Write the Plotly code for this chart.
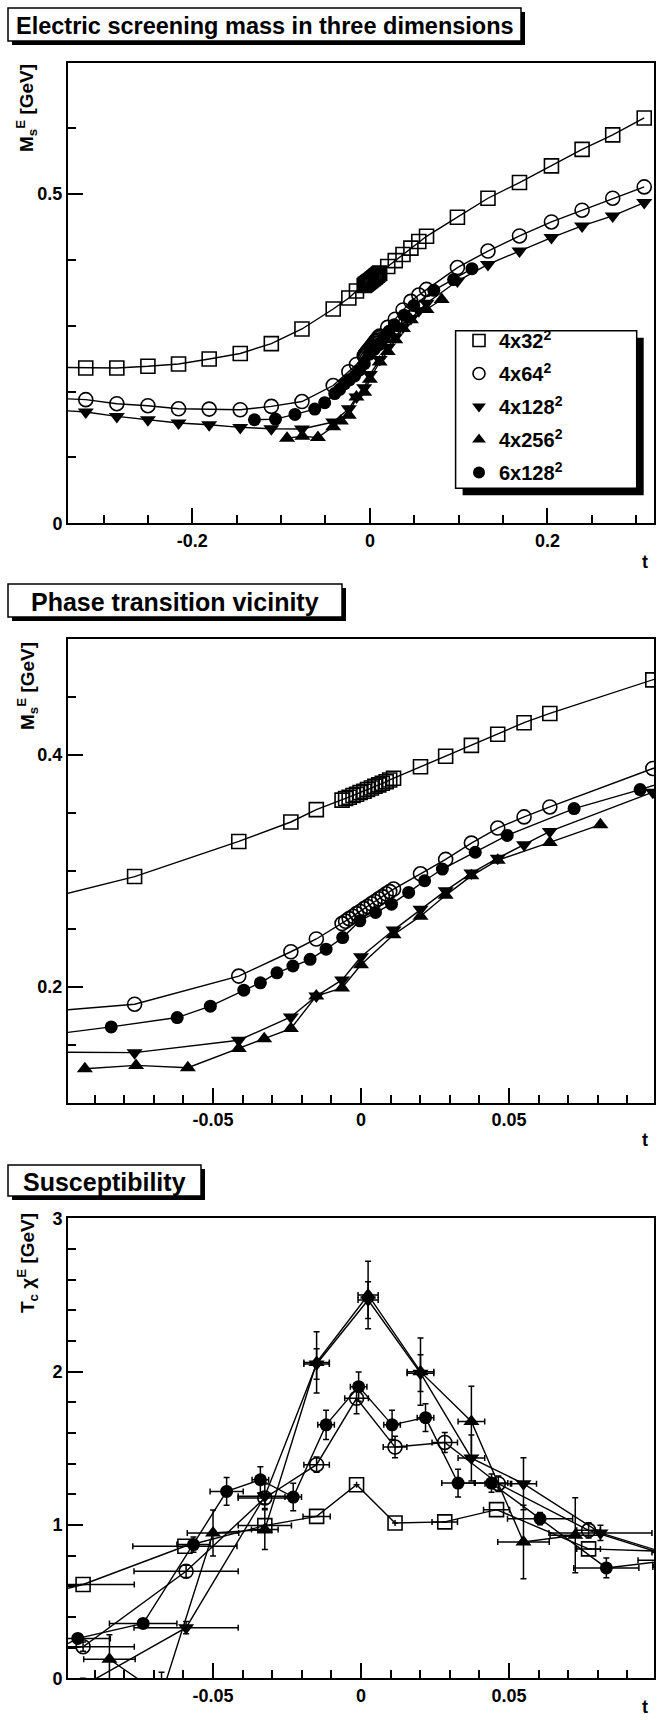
import plotly.graph_objects as go

W, H = 662, 1720
FONT = "Liberation Sans, Arial, Helvetica, sans-serif"

# ---------------- data ----------------
labels = ["4x32<sup>2</sup>", "4x64<sup>2</sup>", "4x128<sup>2</sup>", "4x256<sup>2</sup>", "6x128<sup>2</sup>"]
symbols = ["square-open", "circle-open", "triangle-down", "triangle-up", "circle"]

# electric screening mass M_s^E [GeV] versus reduced temperature t (panels 1 and 2)
t_4x32 = [-0.355, -0.320, -0.285, -0.250, -0.2155, -0.181, -0.146, -0.111, -0.0765, -0.0413, -0.0237, -0.0151,
          -0.0064, -0.0052, -0.0040, -0.0027, -0.0015, -0.0003, 0.0010, 0.0022, 0.0035, 0.0047, 0.0060, 0.0072,
          0.0085, 0.0097, 0.0110,
          0.0201, 0.0286, 0.0373, 0.0462, 0.0551, 0.0638, 0.0986, 0.133, 0.1685, 0.2045, 0.239, 0.2735, 0.309]
m_4x32 = [0.237, 0.236, 0.236, 0.2385, 0.242, 0.2496, 0.258, 0.273, 0.2952, 0.3255, 0.3423, 0.353,
          0.3612, 0.3626, 0.3637, 0.3652, 0.3663, 0.3678, 0.3689, 0.3704, 0.3716, 0.3731, 0.3743, 0.3758,
          0.3770, 0.3786, 0.3800,
          0.390, 0.399, 0.4084, 0.418, 0.428, 0.436, 0.465, 0.4938, 0.5177, 0.543, 0.568, 0.590, 0.6157]

t_4x64 = [-0.355, -0.320, -0.285, -0.250, -0.2155, -0.181, -0.146, -0.111, -0.0765, -0.0413, -0.0237, -0.0151,
          -0.0064, -0.0052, -0.0040, -0.0027, -0.0015, -0.0003, 0.0010, 0.0022, 0.0035, 0.0047, 0.0060, 0.0072,
          0.0085, 0.0097, 0.0110,
          0.0201, 0.0286, 0.0373, 0.0462, 0.0551, 0.0638, 0.0986, 0.133, 0.1685, 0.2045, 0.239, 0.2735, 0.309]
m_4x64 = [0.190, 0.1878, 0.1817, 0.1786, 0.174, 0.1735, 0.1725, 0.1776, 0.185, 0.2093, 0.2303, 0.2413,
          0.2546, 0.2566, 0.2589, 0.2609, 0.2632, 0.2651, 0.2675, 0.2694, 0.2717, 0.2737, 0.2760, 0.2779,
          0.2803, 0.2822, 0.2844,
          0.2976, 0.310, 0.3241, 0.3371, 0.3467, 0.3553, 0.3885, 0.4136, 0.4365, 0.4578, 0.4756, 0.4938, 0.511]

t_4x128 = [-0.355, -0.320, -0.285, -0.250, -0.2155, -0.181, -0.146, -0.111, -0.0765, -0.0413, -0.0237, -0.0151,
           -0.0064, 0.0, 0.011, 0.0201, 0.0286, 0.0373, 0.0462, 0.0551, 0.0638, 0.0986, 0.133, 0.1685, 0.2045,
           0.239, 0.2735, 0.309]
m_4x128 = [0.172, 0.169, 0.1624, 0.1573, 0.1523, 0.1497, 0.1457, 0.1437, 0.1432, 0.1539, 0.174, 0.192,
           0.206, 0.226, 0.249, 0.267, 0.283, 0.2982, 0.3111, 0.3227, 0.3342, 0.368, 0.3933, 0.4136, 0.434,
           0.4517, 0.467, 0.4873]

t_4x256 = [-0.0933, -0.076, -0.0585, -0.0413, -0.0327, -0.0237, -0.0151, -0.0064, 0.0, 0.011, 0.0201, 0.0286,
           0.0373, 0.0462, 0.0638, 0.0809]
m_4x256 = [0.1293, 0.1322, 0.1302, 0.1467, 0.1553, 0.164, 0.192, 0.199, 0.219, 0.245, 0.261, 0.279,
           0.2958, 0.3093, 0.3247, 0.340]

t_6x128 = [-0.130, -0.1063, -0.0844, -0.0621, -0.0509, -0.0396, -0.034, -0.0284, -0.023, -0.0172, -0.0118,
           -0.0062, -0.0004, 0.0049, 0.0103, 0.0161, 0.0215, 0.0275, 0.0386, 0.0494, 0.072, 0.0943, 0.115]
m_6x128 = [0.1573, 0.1583, 0.1654, 0.1735, 0.1833, 0.1971, 0.2035, 0.2121, 0.218, 0.2238, 0.2325,
           0.2425, 0.257, 0.2642, 0.2714, 0.2815, 0.2916, 0.3017, 0.3162, 0.3307, 0.3539, 0.3703, 0.3868]

# susceptibility T_c chi^E [GeV] (panel 3): t, value, t-error, value-error
chi_t_4x32 = [-0.1285, -0.0939, -0.0595, -0.0325, -0.015, -0.0015, 0.0115, 0.0283, 0.0458, 0.0769, 0.1158]
chi_4x32 = [0.44, 0.612, 0.861, 0.996, 1.056, 1.262, 1.013, 1.02, 1.10, 0.844, 0.82]
chi_dt_4x32 = [0.0175, 0.0173, 0.0176, 0.009, 0.0046, 0.0, 0.0, 0.0043, 0.0044, 0.0040, 0.0175]
chi_err_4x32 = [0.0, 0.0, 0.0, 0.0, 0.0, 0.0, 0.0, 0.0, 0.0, 0.0, 0.0]

chi_t_4x64 = [-0.1285, -0.0939, -0.0591, -0.0325, -0.015, -0.0015, 0.0115, 0.0283, 0.0464, 0.0769, 0.1161]
chi_4x64 = [0.15, 0.206, 0.698, 1.176, 1.393, 1.826, 1.508, 1.538, 1.269, 0.965, 0.726]
chi_dt_4x64 = [0.0175, 0.0173, 0.0176, 0.009, 0.0043, 0.0040, 0.0040, 0.0043, 0.0045, 0.0040, 0.0175]
chi_err_4x64 = [0.03, 0.03, 0.04, 0.04, 0.05, 0.10, 0.07, 0.065, 0.05, 0.05, 0.05]

chi_t_4x128 = [-0.094, -0.0591, -0.0325, -0.015, 0.0024, 0.0201, 0.0373, 0.0549, 0.0809, 0.116]
chi_4x128 = [-0.05, 0.33, 1.187, 2.05, 2.467, 1.99, 1.436, 1.269, 0.948, 0.74]
chi_dt_4x128 = [0.0174, 0.0176, 0.009, 0.0043, 0.0034, 0.0045, 0.0045, 0.0044, 0.0174, 0.0174]
chi_err_4x128 = [0.05, 0.04, 0.08, 0.10, 0.12, 0.12, 0.15, 0.17, 0.05, 0.05]

chi_t_4x256 = [-0.085, -0.0674, -0.050, -0.0325, -0.015, 0.0024, 0.0201, 0.0373, 0.0549, 0.0724]
chi_4x256 = [0.124, -0.11, 0.948, 0.97, 2.06, 2.50, 2.00, 1.675, 0.889, 0.933]
chi_dt_4x256 = [0.0087, 0.0087, 0.0087, 0.0045, 0.0043, 0.0034, 0.0045, 0.0045, 0.0087, 0.0085]
chi_err_4x256 = [0.16, 0.15, 0.15, 0.13, 0.20, 0.22, 0.22, 0.23, 0.24, 0.244]

chi_t_6x128 = [-0.118, -0.0957, -0.0736, -0.0566, -0.0454, -0.034, -0.0229, -0.0118, -0.0008, 0.0105,
               0.0218, 0.0328, 0.0441, 0.0605, 0.0829, 0.1046]
chi_6x128 = [0.04, 0.26, 0.358, 0.872, 1.219, 1.295, 1.182, 1.653, 1.902, 1.653, 1.70, 1.273, 1.273, 1.041,
             0.72, 0.77]
chi_dt_6x128 = [0.011, 0.011, 0.0114, 0.0056, 0.0056, 0.0028, 0.0028, 0.0028, 0.0028, 0.0028, 0.0028,
                0.0055, 0.0055, 0.011, 0.011, 0.011]
chi_err_6x128 = [0.03, 0.03, 0.03, 0.05, 0.09, 0.085, 0.09, 0.095, 0.095, 0.095, 0.09, 0.09, 0.06, 0.04,
                 0.065, 0.05]

# tick labels
p1_xtick_vals = [-0.2, 0, 0.2]
p1_xtick_text = ["-0.2", "0", "0.2"]
p1_ytick_vals = [0, 0.5]
p1_ytick_text = ["0", "0.5"]
p2_xtick_vals = [-0.05, 0, 0.05]
p2_xtick_text = ["-0.05", "0", "0.05"]
p2_ytick_vals = [0.2, 0.4]
p2_ytick_text = ["0.2", "0.4"]
p3_ytick_vals = [0, 1, 2, 3]
p3_ytick_text = ["0", "1", "2", "3"]

titles = ["Electric screening mass in three dimensions", "Phase transition vicinity", "Susceptibility"]

# ---------------- figure ----------------
def px(x):
    return x / W


def py(y):
    return 1 - y / H


M_series = [(t_4x32, m_4x32), (t_4x64, m_4x64), (t_4x128, m_4x128), (t_4x256, m_4x256), (t_6x128, m_6x128)]
chi_series = [
    (chi_t_4x32, chi_4x32, chi_dt_4x32, chi_err_4x32),
    (chi_t_4x64, chi_4x64, chi_dt_4x64, chi_err_4x64),
    (chi_t_4x128, chi_4x128, chi_dt_4x128, chi_err_4x128),
    (chi_t_4x256, chi_4x256, chi_dt_4x256, chi_err_4x256),
    (chi_t_6x128, chi_6x128, chi_dt_6x128, chi_err_6x128),
]
msize = [14, 14, 14, 14, 13]


def marker(i, size=None):
    s = size if size is not None else msize[i]
    open_ = symbols[i].endswith("open")
    return dict(symbol=symbols[i], size=s, color="black",
                line=dict(color="black", width=1.6 if open_ else 0))


fig = go.Figure()

for ax in ["", "2"]:
    for i, (tt, mm) in enumerate(M_series):
        fig.add_trace(go.Scatter(x=tt, y=mm, mode="lines+markers", xaxis="x" + ax, yaxis="y" + ax,
                                 marker=marker(i), line=dict(color="black", width=1.4),
                                 showlegend=False, hoverinfo="skip"))

for i, (tt, cc, dt, dc) in enumerate(chi_series):
    fig.add_trace(go.Scatter(x=tt, y=cc, mode="lines+markers", xaxis="x3", yaxis="y3",
                             marker=marker(i), line=dict(color="black", width=1.4),
                             error_x=dict(type="data", array=dt, visible=True, color="black",
                                          thickness=1.5, width=3),
                             error_y=dict(type="data", array=dc, visible=True, color="black",
                                          thickness=1.5, width=3),
                             showlegend=False, hoverinfo="skip"))

# legend-only entries
for i in range(5):
    fig.add_trace(go.Scatter(x=[None], y=[None], mode="markers", xaxis="x", yaxis="y",
                             marker=marker(i, 12), name=labels[i], showlegend=True,
                             legendgroup="g%d" % i))

tickfont = dict(family=FONT, size=18, color="black", weight="bold")


def axis_cfg(dom, rng, vals, text, minor_dt, anchor):
    return dict(domain=dom, range=rng, anchor=anchor, tickmode="array", tickvals=vals, ticktext=text,
                ticks="inside", ticklen=15, tickwidth=1.5, tickcolor="black", automargin=False,
                minor=dict(tickmode="linear", tick0=0, dtick=minor_dt, ticks="inside", ticklen=8,
                           tickwidth=1.5, tickcolor="black", showgrid=False),
                showline=True, linewidth=2, linecolor="black", mirror=True,
                showgrid=False, zeroline=False, tickfont=tickfont)


xdom = [px(68), px(654)]
fig.update_layout(
    template="none",
    width=W, height=H, margin=dict(l=0, r=0, t=0, b=0, pad=0, autoexpand=False),
    paper_bgcolor="white", plot_bgcolor="white",
    xaxis=axis_cfg(xdom, [-0.34, 0.32], p1_xtick_vals, p1_xtick_text, 0.05, "y"),
    yaxis=axis_cfg([py(523.3), py(62.5)], [0, 0.7], p1_ytick_vals, p1_ytick_text, 0.1, "x"),
    xaxis2=axis_cfg(xdom, [-0.099, 0.099], p2_xtick_vals, p2_xtick_text, 0.01, "y2"),
    yaxis2=axis_cfg([py(1102.7), py(639.3)], [0.1, 0.5], p2_ytick_vals, p2_ytick_text, 0.05, "x2"),
    xaxis3=axis_cfg(xdom, [-0.099, 0.099], p2_xtick_vals, p2_xtick_text, 0.01, "y3"),
    yaxis3=axis_cfg([py(1678.3), py(1218.3)], [0, 3], p3_ytick_vals, p3_ytick_text, 0.2, "x3"),
    legend=dict(x=px(459), y=py(321), xanchor="left", yanchor="top", bgcolor="rgba(0,0,0,0)",
                borderwidth=0, font=dict(family=FONT, size=20, color="black", weight="bold"),
                tracegroupgap=4, itemwidth=30),
)

shapes = []
annotations = []


def shadow_box(x0, y0, x1, y1, off):
    shapes.append(dict(type="rect", xref="paper", yref="paper", x0=px(x0 + off), x1=px(x1 + off),
                       y0=py(y1 + off), y1=py(y0 + off), fillcolor="black", line=dict(width=0),
                       layer="above"))
    shapes.append(dict(type="rect", xref="paper", yref="paper", x0=px(x0), x1=px(x1),
                       y0=py(y1), y1=py(y0), fillcolor="white", line=dict(color="black", width=1.5),
                       layer="above"))


title_boxes = [(8, 8, 521, 41, 23.5), (8, 584, 342, 617, 25), (8, 1165, 201, 1196, 25)]
for (x0, y0, x1, y1, fs), ttl in zip(title_boxes, titles):
    shadow_box(x0, y0, x1, y1, 4)
    annotations.append(dict(text=ttl, xref="paper", yref="paper", x=px((x0 + x1) / 2),
                            y=py((y0 + y1) / 2 + 1), xanchor="center", yanchor="middle", showarrow=False,
                            font=dict(family=FONT, size=fs, color="black", weight="bold")))

# legend box with shadow
shadow_box(455.6, 330.7, 636.7, 488.3, 7)

ytitles = [("M<sub>s</sub><sup>E</sup> [GeV]", 62), ("M<sub>s</sub><sup>E</sup> [GeV]", 640),
           ("T<sub>c</sub> χ<sup>E</sup> [GeV]", 1211)]
for txt, ytop in ytitles:
    annotations.append(dict(text=txt, textangle=-90, xref="paper", yref="paper", x=px(27), y=py(ytop),
                            xanchor="center", yanchor="top", showarrow=False,
                            font=dict(family=FONT, size=19, color="black", weight="bold")))

for yc in [562, 1140, 1707]:
    annotations.append(dict(text="t", xref="paper", yref="paper", x=px(650), y=py(yc), xanchor="right",
                            yanchor="middle", showarrow=False,
                            font=dict(family=FONT, size=18, color="black", weight="bold")))

fig.update_layout(shapes=shapes, annotations=annotations)
fig.write_html("out.html", config={"displayModeBar": False},
               post_script="document.body.style.margin='0px';document.body.style.overflow='hidden';")
